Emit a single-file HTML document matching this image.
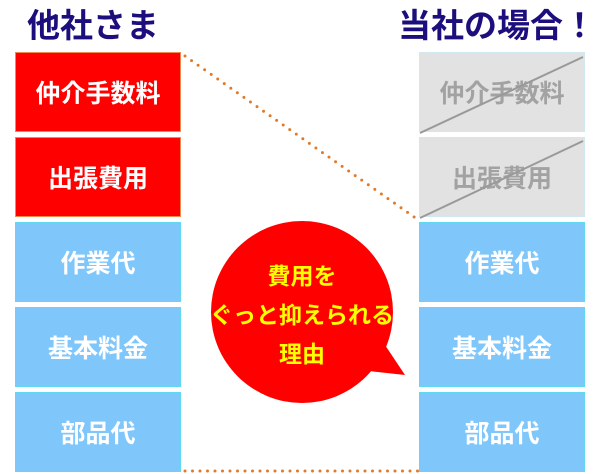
<!DOCTYPE html>
<html><head><meta charset="utf-8"><style>
body{margin:0;width:610px;height:474px;background:#fff;position:relative;overflow:hidden;font-family:"Liberation Sans","Noto Sans CJK JP",sans-serif;}
.t{position:absolute;top:5px;font-size:33px;font-weight:bold;color:#1c0e7c;white-space:nowrap;line-height:42px}
.b{position:absolute;width:166px;height:80px;display:flex;align-items:center;justify-content:center;font-size:25px;font-weight:bold;color:#fff;box-sizing:border-box}
.r{background:#ff0000;border:1px solid #f08a50}
.u{background:#7fc6fb;border:1px solid #5fd8f0}
.g{background:#e2e2e2;color:#a2a2a2;border:1px solid #d0e8ee}
</style></head><body>
<div class="t" style="left:27px">他社さま</div>
<div class="t" style="left:398px">当社の場合！</div>
<div class="b r" style="left:15px;top:52px">仲介手数料</div>
<div class="b r" style="left:15px;top:137px">出張費用</div>
<div class="b u" style="left:15px;top:222px">作業代</div>
<div class="b u" style="left:15px;top:307px">基本料金</div>
<div class="b u" style="left:15px;top:392px">部品代</div>
<div class="b g" style="left:419px;top:52px">仲介手数料</div>
<div class="b g" style="left:419px;top:137px">出張費用</div>
<div class="b u" style="left:419px;top:222px">作業代</div>
<div class="b u" style="left:419px;top:307px">基本料金</div>
<div class="b u" style="left:419px;top:392px">部品代</div>
<svg width="610" height="474" style="position:absolute;left:0;top:0">
<line x1="420" y1="133" x2="583" y2="57" stroke="#999" stroke-width="2"/>
<line x1="420" y1="218" x2="583" y2="141" stroke="#999" stroke-width="2"/>
<line x1="185" y1="56" x2="417" y2="219" stroke="#e07a2a" stroke-width="3" stroke-dasharray="0 8" stroke-linecap="round"/>
<line x1="185" y1="471" x2="418" y2="471" stroke="#e07a2a" stroke-width="3" stroke-dasharray="0 7.5" stroke-linecap="round"/>
<circle cx="302" cy="312" r="91" fill="#ff0000"/>
<polygon points="360,370 405,375 385,345" fill="#ff0000"/>
<g font-size="23" font-weight="bold" fill="#ffff00" text-anchor="middle" font-family="Liberation Sans,Noto Sans CJK JP,sans-serif">
<text x="302" y="284">費用を</text>
<text x="302" y="323">ぐっと抑えられる</text>
<text x="302" y="362">理由</text>
</g>
</svg>
</body></html>
